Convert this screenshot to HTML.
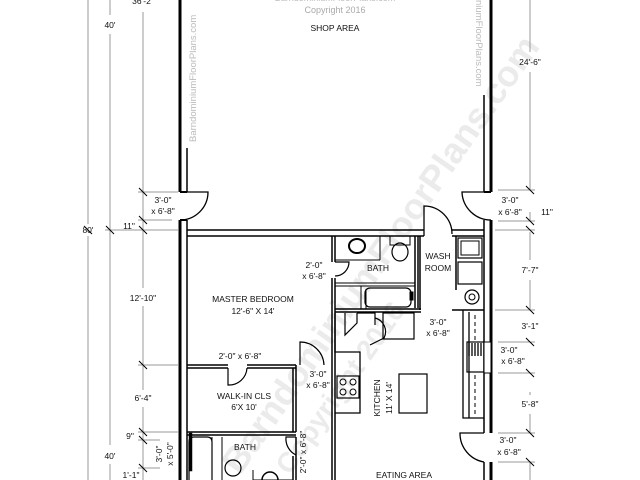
<!DOCTYPE html>
<html><head><style>html,body{margin:0;padding:0;width:640px;height:480px;overflow:hidden;background:#fff}svg{display:block}text{font-family:"Liberation Sans",sans-serif}</style></head><body>
<svg width="640" height="480" viewBox="0 0 640 480" xmlns="http://www.w3.org/2000/svg" style="overflow:hidden">
<g fill="#ebebeb" font-family="Liberation Sans, sans-serif">
<text transform="translate(240,476) rotate(-55)" font-size="36" font-weight="bold">BarndominiumFloorPlans.com</text>
<text transform="translate(290,476) rotate(-55)" font-size="28" font-weight="bold">Copyright 2016</text>
</g>
<g fill="none" stroke="#999" stroke-width="1">
<line x1="88" y1="0" x2="88" y2="224"/><line x1="88" y1="236" x2="88" y2="480"/>
<line x1="110" y1="0" x2="110" y2="15"/><line x1="110" y1="34" x2="110" y2="445"/><line x1="110" y1="464" x2="110" y2="480"/>
<line x1="143" y1="12" x2="143" y2="288"/><line x1="143" y1="306" x2="143" y2="390"/><line x1="143" y1="407" x2="143" y2="480"/>
<line x1="138" y1="192" x2="178" y2="192"/><line x1="138" y1="220" x2="172" y2="220"/><line x1="105" y1="230" x2="178" y2="230"/>
<line x1="138" y1="365" x2="178" y2="365"/><line x1="138" y1="432" x2="178" y2="432"/><line x1="138" y1="440" x2="160" y2="440"/><line x1="138" y1="468" x2="160" y2="468"/>
<line x1="530" y1="0" x2="530" y2="52"/><line x1="530" y1="72" x2="530" y2="190"/><line x1="530" y1="232" x2="530" y2="260"/><line x1="530" y1="280" x2="530" y2="310"/><line x1="530" y1="392" x2="530" y2="395"/><line x1="530" y1="414" x2="530" y2="433"/><line x1="530" y1="462" x2="530" y2="480"/>
<line x1="498" y1="190" x2="535" y2="190"/><line x1="498" y1="221" x2="535" y2="221"/><line x1="495" y1="230" x2="535" y2="230"/><line x1="495" y1="310" x2="535" y2="310"/><line x1="498" y1="342" x2="535" y2="342"/><line x1="498" y1="373" x2="535" y2="373"/><line x1="498" y1="433" x2="535" y2="433"/><line x1="498" y1="462" x2="535" y2="462"/>
<line x1="530" y1="212" x2="530" y2="221"/>
</g>
<g stroke="#000" stroke-width="1">
<path d="M139 188l8 8M139 216l8 8M139 226l8 8M139 361l8 8M139 428l8 8M139 436l8 8M139 464l8 8M526 186l8 8M526 217l8 8M526 226l8 8M526 306l8 8M526 338l8 8M526 369l8 8M526 429l8 8M526 458l8 8M106 226l8 8M84 226l8 8"/>
</g>
<g fill="none" stroke="#000">
<line x1="180" y1="0" x2="180" y2="192" stroke-width="3"/>
<line x1="187" y1="148" x2="187" y2="192" stroke-width="1.5"/>
<line x1="180" y1="192" x2="187" y2="192" stroke-width="2"/>
<line x1="180" y1="220" x2="180" y2="480" stroke-width="3"/>
<line x1="187" y1="220" x2="187" y2="480" stroke-width="1.5"/>
<line x1="180" y1="220" x2="187" y2="220" stroke-width="2"/>
<path d="M180 192H208A28 28 0 0 1 180 220" stroke-width="1.3"/>
<line x1="491" y1="0" x2="491" y2="192" stroke-width="3"/>
<line x1="484" y1="95" x2="484" y2="192" stroke-width="1.5"/>
<line x1="484" y1="192" x2="491" y2="192" stroke-width="2"/>
<path d="M491 192H462A29 29 0 0 0 491 220" stroke-width="1.3"/>
<line x1="491" y1="220" x2="491" y2="433" stroke-width="3"/>
<line x1="484" y1="220" x2="484" y2="433" stroke-width="1.5"/>
<line x1="491" y1="462" x2="491" y2="480" stroke-width="3"/>
<line x1="484" y1="462" x2="484" y2="480" stroke-width="1.5"/>
<path d="M484 433H460A29 29 0 0 0 484 462" stroke-width="1.3"/>
<line x1="187" y1="230" x2="424" y2="230" stroke-width="1.5"/>
<line x1="187" y1="236" x2="424" y2="236" stroke-width="1.5"/>
<line x1="452" y1="230" x2="484" y2="230" stroke-width="1.5"/>
<line x1="452" y1="236" x2="484" y2="236" stroke-width="1.5"/>
<path d="M424 236V206A28 28 0 0 1 452 234" stroke-width="1.3"/>
<path d="M187 365H228M247 365H296" stroke-width="1.5"/><path d="M187 368H228M247 368H296" stroke-width="1.5"/>
<path d="M228 368V385A18 18 0 0 0 247 368" stroke-width="1.2"/>
<path d="M296 365V432M293 368V432" stroke-width="1.5"/>
<path d="M300 365V342A24 24 0 0 1 324 365" stroke-width="1.2"/>
<path d="M332 236V262M335 236V262M332 278V480M335 278V480" stroke-width="1.5"/>
<path d="M335 262H349A14 14 0 0 1 335 276" stroke-width="1.2"/>
<path d="M187 432H296M187 435H296" stroke-width="1.5"/>
<path d="M296 437V480M293 456V480" stroke-width="1.5"/>
<path d="M296 437H286A18 18 0 0 0 296 455" stroke-width="1.2"/>
<path d="M189 480V442Q189 437 194 437H207Q212 437 212 442V480" stroke-width="1.2"/>
<rect x="189" y="433" width="3" height="38" fill="#000" stroke-width="0.5"/>
<path d="M212 437V480M222 437V480" stroke-width="1"/>
<circle cx="233" cy="468" r="8" stroke-width="1.2"/>
<path d="M253 470V480H293" stroke-width="1"/><path d="M262 480A8 8 0 0 1 278 480" stroke-width="1.5"/>
<path d="M335 260H380M380 236V260" stroke-width="1"/><ellipse cx="357" cy="246" rx="8" ry="7" stroke-width="2"/>
<rect x="390" y="236" width="20" height="9" stroke-width="1"/><ellipse cx="400" cy="252" rx="8" ry="9" stroke-width="1.2"/>
<path d="M415 236V308M418 236V308" stroke-width="1.5"/>
<path d="M335 283H415M335 286H415" stroke-width="1"/>
<path d="M361 286V309M366 289V309" stroke-width="1"/>
<rect x="365" y="288" width="46" height="19" rx="5" stroke-width="1.2"/>
<rect x="410" y="292" width="3" height="8" fill="#000"/>
<path d="M335 309H421M335 312H421" stroke-width="1.5"/>
<path d="M420 236V310M456 236V290" stroke-width="1.5"/>
<rect x="458" y="238" width="24" height="20" stroke-width="1.2"/><rect x="461" y="241" width="18" height="14" stroke-width="1"/>
<rect x="458" y="262" width="24" height="22" stroke-width="1.2"/>
<circle cx="472" cy="297" r="7" stroke-width="1.2"/><circle cx="472" cy="297" r="3" stroke-width="1"/>
<path d="M452 310H484" stroke-width="1.5"/>
<path d="M335 313V352H360V413H335" stroke-width="1.3"/>
<path d="M345 313V335L357 323V313M357 313H375V325" stroke-width="1.2"/>
<path d="M375 318A14 14 0 0 1 384 338L370 345" stroke-width="1.2"/>
<rect x="383" y="313" width="31" height="26" stroke-width="1.2"/>
<rect x="337" y="376" width="22" height="22" stroke-width="1.2"/>
<circle cx="343" cy="382" r="3"/><circle cx="353" cy="382" r="3"/><circle cx="343" cy="392" r="3"/><circle cx="353" cy="392" r="3"/>
<rect x="399" y="374" width="28" height="39" stroke-width="1.2"/>
<path d="M463 310V418H484M469 312V418" stroke-width="1.3"/>
<path d="M475 315V340M475 375V415" stroke-dasharray="4 3" stroke-width="1"/>
<rect x="467" y="342" width="17" height="30" stroke-width="1.2"/>
<path d="M469 343V356M472 343V356M475 343V356M478 343V356M481 343V356" stroke-width="1.3"/>
<rect x="484" y="342" width="7" height="31" fill="#fff" stroke-width="1"/>
</g>
<g fill="#bbb" font-size="9.5">
<text transform="translate(196,142) rotate(-90)">BarndominiumFloorPlans.com</text>
<text transform="translate(476,0) rotate(90)">niumFloorPlans.com</text>
<text x="335" y="1" text-anchor="middle" font-size="9">BarndominiumFloorPlans.com</text>
<text x="335" y="13" text-anchor="middle" font-size="9" fill="#aaa">Copyright 2016</text>
</g>
<g font-size="8.5" text-anchor="middle" fill="#111">
<text x="335" y="31">SHOP AREA</text>
<text x="110" y="28">40'</text><text x="88" y="233">80'</text><text x="110" y="459">40'</text>
<text x="143" y="4">36'-2"</text>
<text x="163" y="203">3'-0"</text><text x="163" y="214">x 6'-8"</text>
<text x="129" y="229">11"</text>
<text x="143" y="301">12'-10"</text><text x="143" y="401">6'-4"</text>
<text x="130" y="439">9"</text><text x="131" y="478">1'-1"</text>
<text transform="translate(162,454) rotate(-90)">3'-0"</text><text transform="translate(173,454) rotate(-90)">x 5'-0"</text>
<text x="530" y="65">24'-6"</text>
<text x="510" y="203">3'-0"</text><text x="510" y="215">x 6'-8"</text><text x="547" y="215">11"</text>
<text x="530" y="273">7'-7"</text><text x="530" y="329">3'-1"</text>
<text x="509" y="353">3'-0"</text><text x="513" y="364">x 6'-8"</text>
<text x="530" y="407">5'-8"</text>
<text x="508" y="443">3'-0"</text><text x="509" y="455">x 6'-8"</text>
<text x="253" y="302">MASTER BEDROOM</text><text x="253" y="314">12'-6" X 14'</text>
<text x="240" y="359">2'-0" x 6'-8"</text>
<text x="314" y="268">2'-0"</text><text x="314" y="279">x 6'-8"</text>
<text x="378" y="271">BATH</text>
<text x="438" y="259">WASH</text><text x="438" y="271">ROOM</text>
<text x="438" y="325">3'-0"</text><text x="438" y="336">x 6'-8"</text>
<text x="318" y="377">3'-0"</text><text x="318" y="388">x 6'-8"</text>
<text x="244" y="399">WALK-IN CLS</text><text x="244" y="410">6'X 10'</text>
<text x="245" y="450">BATH</text>
<text transform="translate(306,452) rotate(-90)">2'-0" x 6'-8"</text>
<text transform="translate(380,398) rotate(-90)">KITCHEN</text><text transform="translate(392,398) rotate(-90)">11' X 14'</text>
<text x="404" y="478">EATING AREA</text>
</g>
</svg>
</body></html>
